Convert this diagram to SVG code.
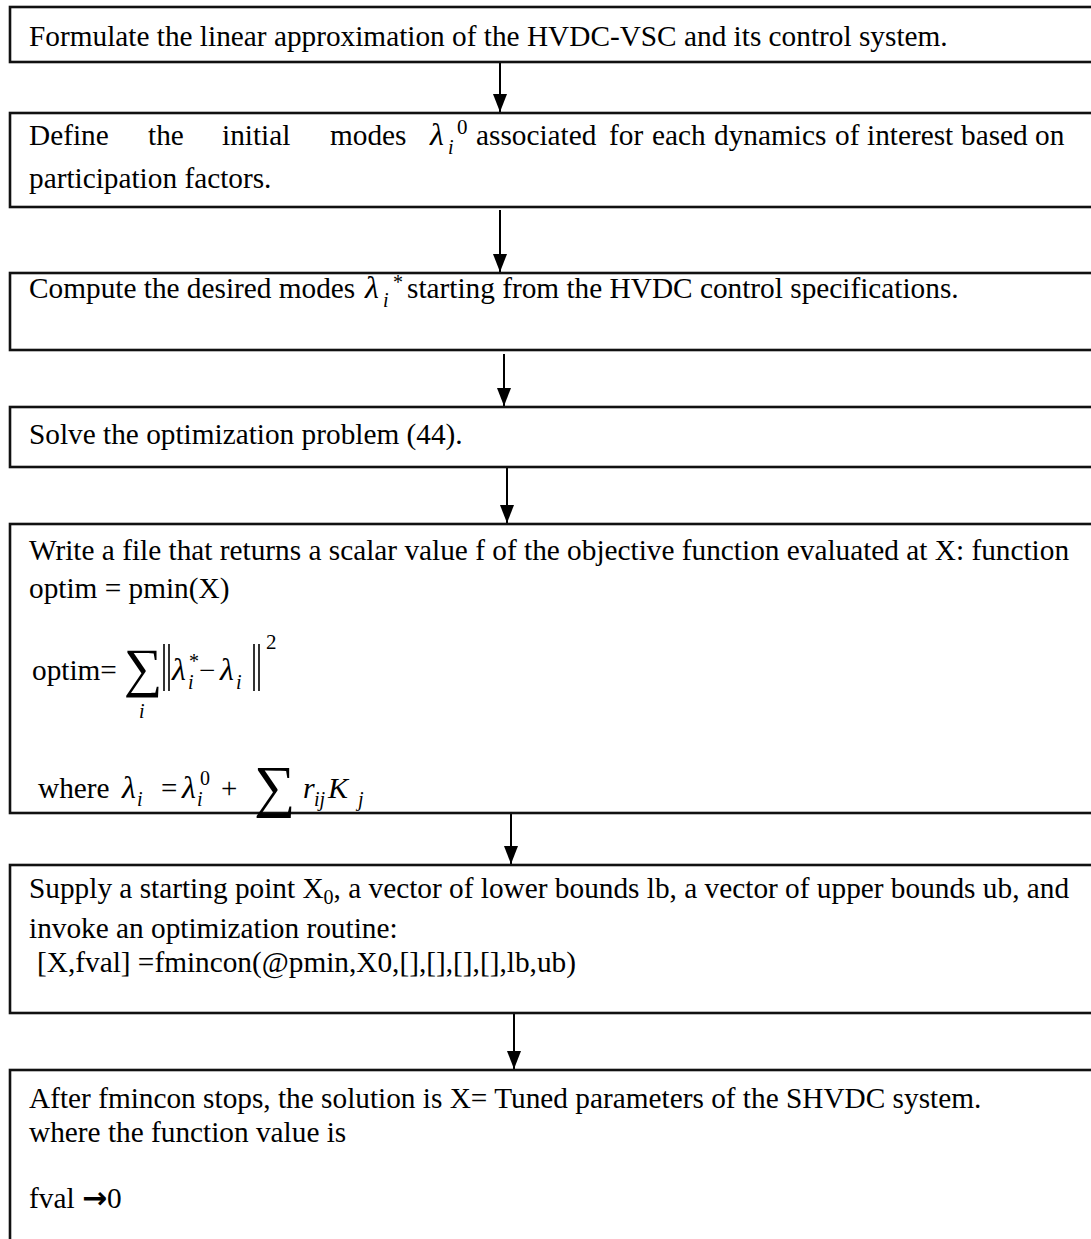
<svg xmlns="http://www.w3.org/2000/svg" width="1091" height="1239" viewBox="0 0 1091 1239">
<defs>
<marker id="ah" markerUnits="userSpaceOnUse" markerWidth="18" markerHeight="14" refX="18" refY="7" orient="auto" viewBox="0 0 18 14">
<polygon points="0,0 18,7 0,14" fill="#000"/>
</marker>
</defs>
<style>
.box{fill:#fff;stroke:#111;stroke-width:2.6}
.t{font-family:"Liberation Serif","Times New Roman",serif;font-size:29.3px;fill:#000}
.m{font-family:"Liberation Serif","Times New Roman",serif;font-style:italic;fill:#000}
.u{font-family:"Liberation Serif","Times New Roman",serif;fill:#000}
.c{stroke:#000;stroke-width:2;fill:none}
.nb{stroke:#000;stroke-width:1.6}
</style>
<rect width="1091" height="1239" fill="#fff"/>
<g id="connectors">
<line class="c" x1="500" y1="62" x2="500" y2="112" marker-end="url(#ah)"/>
<line class="c" x1="500" y1="210" x2="500" y2="272" marker-end="url(#ah)"/>
<line class="c" x1="504" y1="354" x2="504" y2="406" marker-end="url(#ah)"/>
<line class="c" x1="507" y1="467" x2="507" y2="523" marker-end="url(#ah)"/>
<line class="c" x1="511" y1="813" x2="511" y2="864" marker-end="url(#ah)"/>
<line class="c" x1="514" y1="1013" x2="514" y2="1069" marker-end="url(#ah)"/>
</g>
<g id="n1">
<rect class="box" x="10" y="7" width="1100" height="55"/>
<text class="t" x="29" y="46">Formulate the linear approximation of the HVDC-VSC and its control system.</text>
</g>
<g id="n2">
<rect class="box" x="10" y="113" width="1100" height="94"/>
<text class="t" y="145"><tspan x="29">Define</tspan><tspan x="148">the</tspan><tspan x="222">initial</tspan><tspan x="330">modes</tspan></text>
<text class="m" x="430" y="145" font-size="32">λ</text>
<text class="m" x="448" y="154" font-size="20">i</text>
<text class="u" x="457" y="134" font-size="21">0</text>
<text class="t" y="145"><tspan x="476">associated</tspan><tspan x="609">for</tspan><tspan x="652">each</tspan><tspan x="714">dynamics</tspan><tspan x="835">of</tspan><tspan x="867">interest</tspan><tspan x="961">based</tspan><tspan x="1035">on</tspan></text>
<text class="t" x="29" y="188">participation factors.</text>
</g>
<g id="n3">
<rect class="box" x="10" y="273" width="1100" height="77"/>
<text class="t" x="29" y="298">Compute the desired modes</text>
<text class="m" x="365" y="298" font-size="32">λ</text>
<text class="m" x="383" y="307" font-size="20">i</text>
<text class="u" x="393" y="289" font-size="20">*</text>
<text class="t" x="407" y="298">starting from the HVDC control specifications.</text>
</g>
<g id="n4">
<rect class="box" x="10" y="407" width="1100" height="60"/>
<text class="t" x="29" y="444">Solve the optimization problem (44).</text>
</g>
<g id="n5">
<rect class="box" x="10" y="524" width="1100" height="289"/>
<text class="t" x="29" y="560">Write a file that returns a scalar value f of the objective function evaluated at X: function</text>
<text class="t" x="29" y="598">optim = pmin(X)</text>
<text class="t" x="32" y="680">optim=</text>
<text class="u" x="124" y="686" font-size="54">∑</text>
<text class="m" x="139" y="718" font-size="20">i</text>
<line class="nb" x1="164" y1="644" x2="164" y2="691"/>
<line class="nb" x1="169" y1="644" x2="169" y2="691"/>
<text class="m" x="172" y="680" font-size="32">λ</text>
<text class="m" x="188" y="689" font-size="20">i</text>
<text class="u" x="189" y="668" font-size="20">*</text>
<text class="u" x="199" y="680" font-size="29">−</text>
<text class="m" x="220" y="680" font-size="32">λ</text>
<text class="m" x="236" y="689" font-size="20">i</text>
<line class="nb" x1="254" y1="644" x2="254" y2="691"/>
<line class="nb" x1="259" y1="644" x2="259" y2="691"/>
<text class="u" x="266" y="649" font-size="21">2</text>
<text class="t" x="38" y="798">where</text>
<text class="m" x="122" y="798" font-size="32">λ</text>
<text class="m" x="137" y="806" font-size="20">i</text>
<text class="u" x="161" y="798" font-size="29">=</text>
<text class="m" x="182" y="798" font-size="32">λ</text>
<text class="m" x="197" y="806" font-size="20">i</text>
<text class="u" x="200" y="785" font-size="20">0</text>
<text class="u" x="221" y="798" font-size="29">+</text>
<text class="u" x="254" y="806" font-size="58">∑</text>
<text class="m" x="303" y="798" font-size="30">r</text>
<text class="m" x="314" y="806" font-size="20">ij</text>
<text class="m" x="328" y="798" font-size="30">K</text>
<text class="m" x="358" y="806" font-size="20">j</text>
</g>
<g id="n6">
<rect class="box" x="10" y="865" width="1100" height="148"/>
<text class="t" x="29" y="898">Supply a starting point X<tspan font-size="20" dy="6">0</tspan><tspan dy="-6">, a vector of lower bounds lb, a vector of upper bounds ub, and</tspan></text>
<text class="t" x="29" y="938">invoke an optimization routine:</text>
<text class="t" x="37" y="972">[X,fval] =fmincon(@pmin,X0,[],[],[],[],lb,ub)</text>
</g>
<g id="n7">
<rect class="box" x="10" y="1070" width="1100" height="200"/>
<text class="t" x="29" y="1108">After fmincon stops, the solution is X= Tuned parameters of the SHVDC system.</text>
<text class="t" x="29" y="1142">where the function value is</text>
<text class="t" x="29" y="1208">fval <tspan font-family="DejaVu Sans" font-weight="bold" font-size="30">→</tspan>0</text>
</g>
</svg>
